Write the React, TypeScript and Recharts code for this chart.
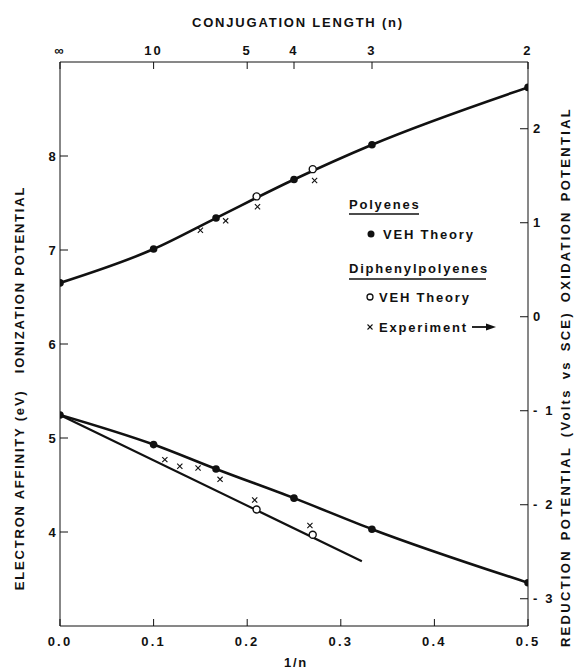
import React from 'react';
import { ComposedChart, Line, Scatter, XAxis, YAxis } from 'recharts';

// 1/n values of the polyene VEH theory points
const invN = [0, 0.1, 0.1667, 0.25, 0.3333, 0.5];
const polyeneIP = [6.65, 7.01, 7.34, 7.75, 8.12, 8.73];
const polyeneEA = [5.245, 4.93, 4.67, 4.36, 4.03, 3.46];

// diphenylpolyenes VEH theory
const diphInvN = [0.21, 0.27];
const diphIP = [7.57, 7.86];
const diphEA = [4.24, 3.97];
const diphLineInvN = [0, 0.3225];
const diphLineEA = [5.245, 3.69];

// experiment (right axis, volts vs SCE)
const oxInvN = [0.15, 0.177, 0.211, 0.272];
const oxPotential = [0.92, 1.02, 1.17, 1.45];
const redInvN = [0.112, 0.128, 0.1475, 0.171, 0.208, 0.267];
const redPotential = [-1.52, -1.59, -1.61, -1.73, -1.95, -2.22];

// ticks
const bottomTicks = [0, 0.1, 0.2, 0.3, 0.4, 0.5];
const topTickN = [Infinity, 10, 5, 4, 3, 2];
const topTickLabels = ['∞', '10', '5', '4', '3', '2'];
const leftTicks = [4, 5, 6, 7, 8];
const rightTicks = [-3, -2, -1, 0, 1, 2];

const pts = (xs: number[], ys: number[]) => xs.map((x, i) => ({ x, y: ys[i] }));

const ipData = pts(invN, polyeneIP);
const eaData = pts(invN, polyeneEA);
const diphLineData = pts(diphLineInvN, diphLineEA);
const diphOpen = [...pts(diphInvN, diphIP), ...pts(diphInvN, diphEA)];
const expData = [...pts(oxInvN, oxPotential), ...pts(redInvN, redPotential)];
const topTicks = topTickN.map((n) => 1 / n);

const INK = '#111';

const OpenCircle = (props: any) => {
  const { cx, cy } = props;
  return <circle cx={cx} cy={cy} r={3.5} fill="#fff" stroke={INK} strokeWidth={1.4} />;
};

const Cross = (props: any) => {
  const { cx, cy } = props;
  const s = 2.6;
  return (
    <g stroke={INK} strokeWidth={1.1}>
      <line x1={cx - s} y1={cy - s} x2={cx + s} y2={cy + s} />
      <line x1={cx - s} y1={cy + s} x2={cx + s} y2={cy - s} />
    </g>
  );
};

const tickStyle = { fill: INK, fontSize: 13, fontWeight: 700, style: { letterSpacing: '2.2px' } };

export default function App() {
  return (
    <div
      style={{
        position: 'absolute',
        left: 0,
        top: 0,
        width: 582,
        height: 670,
        background: '#fff',
        fontFamily: "'Liberation Sans', Arial, sans-serif",
        fontWeight: 700,
        letterSpacing: '1.8px',
      }}
    >
      <ComposedChart width={582} height={670} margin={{ top: 32, right: 14, bottom: 14, left: 20 }}>
        <XAxis
          xAxisId="b"
          dataKey="x"
          type="number"
          domain={[0, 0.5]}
          ticks={bottomTicks}
          tickFormatter={(v: number) => v.toFixed(1)}
          height={30}
          tickSize={-7}
          tickMargin={18}
          stroke={INK}
          tick={tickStyle}
          allowDataOverflow
        />
        <XAxis
          xAxisId="t"
          orientation="top"
          dataKey="x"
          type="number"
          domain={[0, 0.5]}
          ticks={topTicks}
          tickFormatter={(v: number) => {
            const i = topTicks.findIndex((t) => Math.abs(t - v) < 1e-6);
            return i >= 0 ? topTickLabels[i] : '';
          }}
          height={30}
          tickSize={-7}
          tickMargin={14}
          stroke={INK}
          tick={tickStyle}
          allowDataOverflow
        />
        <YAxis
          yAxisId="l"
          type="number"
          domain={[3, 9]}
          ticks={leftTicks}
          width={40}
          tickSize={-8}
          tickMargin={10}
          stroke={INK}
          tick={tickStyle}
          allowDataOverflow
        />
        <YAxis
          yAxisId="r"
          orientation="right"
          type="number"
          domain={[-3.29, 2.71]}
          ticks={rightTicks}
          tickFormatter={(v: number) => (v < 0 ? `- ${-v}` : `${v}`)}
          width={40}
          tickSize={-8}
          tickMargin={13}
          stroke={INK}
          tick={tickStyle}
          allowDataOverflow
        />
        <Line
          xAxisId="b"
          yAxisId="l"
          data={ipData}
          dataKey="y"
          type="monotone"
          stroke={INK}
          strokeWidth={2.6}
          dot={{ r: 3.8, fill: INK, stroke: INK, strokeWidth: 0 }}
          isAnimationActive={false}
        />
        <Line
          xAxisId="b"
          yAxisId="l"
          data={eaData}
          dataKey="y"
          type="monotone"
          stroke={INK}
          strokeWidth={2.6}
          dot={{ r: 3.8, fill: INK, stroke: INK, strokeWidth: 0 }}
          isAnimationActive={false}
        />
        <Line
          xAxisId="b"
          yAxisId="l"
          data={diphLineData}
          dataKey="y"
          type="linear"
          stroke={INK}
          strokeWidth={2.2}
          dot={false}
          isAnimationActive={false}
        />
        <Scatter
          xAxisId="b"
          yAxisId="l"
          data={diphOpen}
          dataKey="y"
          shape={<OpenCircle />}
          isAnimationActive={false}
        />
        <Scatter
          xAxisId="b"
          yAxisId="r"
          data={expData}
          dataKey="y"
          shape={<Cross />}
          isAnimationActive={false}
        />
      </ComposedChart>
      <svg
        width={582}
        height={670}
        style={{ position: 'absolute', left: 0, top: 0, pointerEvents: 'none' }}
        fontFamily="'Liberation Sans', Arial, sans-serif"
        fontWeight={700}
        fontSize={13}
        fill={INK}
      >
        <text x={298} y={27} textAnchor="middle">CONJUGATION LENGTH (n)</text>
        <text x={296} y={667} textAnchor="middle">1/n</text>
        <text x={24} y={388} textAnchor="middle" transform="rotate(-90 24 388)">
          {'ELECTRON AFFINITY (eV)\u00a0\u00a0\u00a0IONIZATION POTENTIAL'}
        </text>
        <text
          x={570}
          y={377}
          textAnchor="middle"
          transform="rotate(-90 570 377)"
          style={{ letterSpacing: '2.3px', wordSpacing: '3px' }}
        >
          REDUCTION POTENTIAL (Volts vs SCE) OXIDATION POTENTIAL
        </text>

        <text x={349} y={209}>Polyenes</text>
        <line x1={349} y1={214} x2={419} y2={214} stroke={INK} strokeWidth={1.5} />
        <circle cx={371} cy={234} r={3.5} fill={INK} />
        <text x={383} y={239}>VEH Theory</text>

        <text x={349} y={273}>Diphenylpolyenes</text>
        <line x1={349} y1={279} x2={486} y2={279} stroke={INK} strokeWidth={1.5} />
        <circle cx={370} cy={297} r={3} fill="#fff" stroke={INK} strokeWidth={1.3} />
        <text x={379} y={302}>VEH Theory</text>

        <g stroke={INK} strokeWidth={1.1}>
          <line x1={367.5} y1={324.5} x2={372.5} y2={329.5} />
          <line x1={367.5} y1={329.5} x2={372.5} y2={324.5} />
        </g>
        <text x={379} y={332}>Experiment</text>
        <line x1={472} y1={327} x2={488} y2={327} stroke={INK} strokeWidth={1.8} />
        <polygon points="486,323.5 496,327 486,330.5" fill={INK} />
      </svg>
    </div>
  );
}
